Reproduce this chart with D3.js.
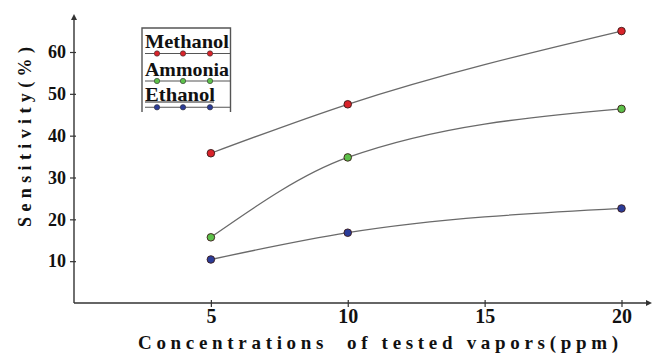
<!DOCTYPE html>
<html>
<head>
<meta charset="utf-8">
<script src="https://cdn.jsdelivr.net/npm/d3@7/dist/d3.min.js"></script>
<style>
  html, body { margin: 0; padding: 0; background: #fff; }
  svg { display: block; }
</style>
</head>
<body>
<svg id="chart" width="655" height="355" font-family="Liberation Serif" font-weight="bold">
  <text id="ytitle" transform="translate(31,137) rotate(-90)" text-anchor="middle" font-size="18" fill="#111"
        textLength="180" lengthAdjust="spacing">Sensitivity(%)</text>
  <text id="xtitle" x="378" y="349" text-anchor="middle" font-size="19" fill="#111" style="white-space:pre"
        textLength="480" lengthAdjust="spacing">Concentrations  of tested vapors(ppm)</text>
</svg>
<script>
// Concentrations (ppm) and sensitivity (%) of each vapor
const concentrations = [5, 10, 20];
const methanol = [35.8, 47.5, 65.0];
const ammonia  = [15.7, 34.8, 46.4];
const ethanol  = [10.4, 16.8, 22.6];
const seriesNames = ["Methanol", "Ammonia", "Ethanol"];
const seriesColors = ["#d9232a", "#5cc04a", "#2b3c98"];
const xTicks = [5, 10, 15, 20];
const yTicks = [10, 20, 30, 40, 50, 60];

const serif = "Liberation Serif";
const svg = d3.select("#chart");
const origin = { x: 74, y: 303 };

const x = d3.scaleLinear().domain([0, 20]).range([origin.x, 621.5]);
const y = d3.scaleLinear().domain([0, 60]).range([origin.y, 52]);

const axisColor = "#333";

// axis lines with arrowheads
const xEnd = 652, yEnd = 14;
svg.append("line").attr("x1", origin.x).attr("y1", origin.y).attr("x2", xEnd - 3).attr("y2", origin.y)
  .attr("stroke", axisColor).attr("stroke-width", 1.4);
svg.append("path").attr("d", `M${xEnd},${origin.y} l-6,-3 l0,6 z`).attr("fill", axisColor);
svg.append("line").attr("x1", origin.x).attr("y1", origin.y).attr("x2", origin.x).attr("y2", yEnd + 3)
  .attr("stroke", axisColor).attr("stroke-width", 1.4);
svg.append("path").attr("d", `M${origin.x},${yEnd} l-3,6 l6,0 z`).attr("fill", axisColor);

// x axis ticks and labels
const gx = svg.append("g").attr("transform", `translate(0,${origin.y})`)
  .call(d3.axisBottom(x).tickValues(xTicks).tickSizeInner(4).tickSizeOuter(0).tickPadding(2));
gx.attr("font-family", serif).attr("font-weight", "bold");
gx.select(".domain").remove();
gx.selectAll(".tick line").attr("y1", -3).attr("y2", 4).attr("stroke", axisColor).attr("stroke-width", 1.2);
gx.selectAll(".tick text").attr("font-size", 20).attr("fill", "#111");

// y axis ticks and labels
const gy = svg.append("g").attr("transform", `translate(${origin.x},0)`)
  .call(d3.axisLeft(y).tickValues(yTicks).tickSizeInner(4).tickSizeOuter(0).tickPadding(4));
gy.attr("font-family", serif).attr("font-weight", "bold");
gy.select(".domain").remove();
gy.selectAll(".tick line").attr("x1", -4).attr("x2", 2).attr("stroke", axisColor).attr("stroke-width", 1.2);
gy.selectAll(".tick text").attr("font-size", 18).attr("fill", "#111");

// data curves and markers
const series = [methanol, ammonia, ethanol];
const line = d3.line()
  .x((d, i) => x(concentrations[i]))
  .y(d => y(d))
  .curve(d3.curveMonotoneX);

series.forEach((vals, s) => {
  svg.append("path").datum(vals)
    .attr("d", line)
    .attr("fill", "none")
    .attr("stroke", "#6a6a6a")
    .attr("stroke-width", 1.3);
  svg.selectAll(null).data(vals).enter().append("circle")
    .attr("cx", (d, i) => x(concentrations[i]))
    .attr("cy", d => y(d))
    .attr("r", 3.8)
    .attr("fill", seriesColors[s])
    .attr("stroke", "#3a1a1a")
    .attr("stroke-width", 0.9);
});

// legend box (left, top and right sides)
const lg = { x0: 142, x1: 230.5, y0: 28, y1: 112 };
svg.append("path")
  .attr("d", `M${lg.x0},${lg.y1} V${lg.y0} H${lg.x1} V${lg.y1}`)
  .attr("fill", "none").attr("stroke", "#555").attr("stroke-width", 1.4);

const legendRows = [
  { text: 47.5, line: 53.5 },
  { text: 75.5, line: 81 },
  { text: 101, line: 107.3 }
];
const legendDotX = [157, 183, 210];

seriesNames.forEach((name, s) => {
  const row = legendRows[s];
  svg.append("text")
    .attr("x", 145).attr("y", row.text)
    .attr("font-size", 19).attr("fill", "#111")
    .attr("textLength", s === 2 ? 70 : 84).attr("lengthAdjust", "spacingAndGlyphs")
    .text(name);
  svg.append("line")
    .attr("x1", 145).attr("x2", 230).attr("y1", row.line).attr("y2", row.line)
    .attr("stroke", "#555").attr("stroke-width", 1.1);
  svg.selectAll(null).data(legendDotX).enter().append("circle")
    .attr("cx", d => d).attr("cy", row.line).attr("r", 2.7)
    .attr("fill", seriesColors[s]).attr("stroke", "#333").attr("stroke-width", 0.6);
});
// underline beneath the last legend label
svg.append("line").attr("x1", 145).attr("x2", 214).attr("y1", 102).attr("y2", 102)
  .attr("stroke", "#222").attr("stroke-width", 1);
</script>
</body>
</html>
